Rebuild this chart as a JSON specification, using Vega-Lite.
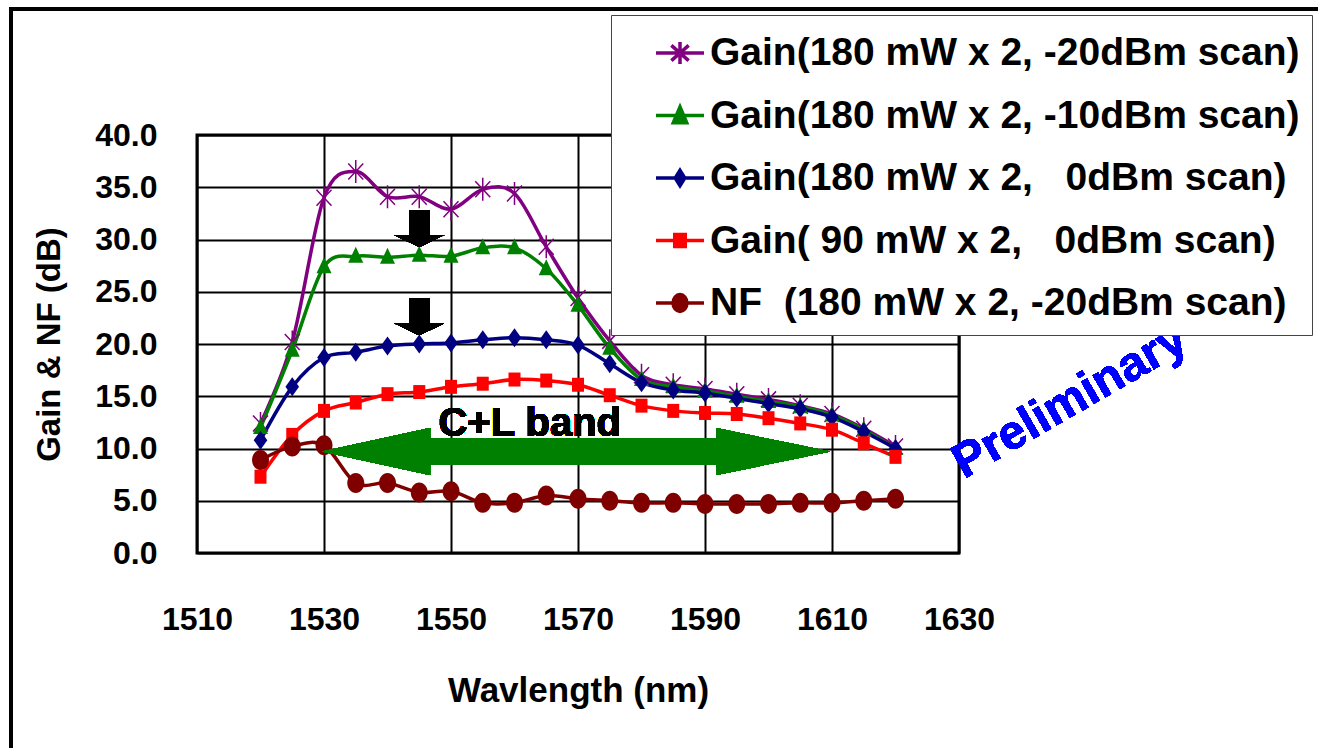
{
  "$schema": "https://vega.github.io/schema/vega-lite/v6.json",
  "width": 762,
  "height": 418,
  "autosize": {"type": "none"},
  "padding": {"left": 197, "top": 135, "right": 359, "bottom": 195},
  "background": "white",
  "config": {
    "font": "Liberation Sans",
    "view": {"stroke": "black", "strokeWidth": 3},
    "axis": {"gridColor": "black", "gridWidth": 2, "gridOpacity": 1, "domain": false, "ticks": false, "tickSize": 0,
             "labelFont": "Liberation Sans", "labelFontWeight": "bold", "labelColor": "black", "labelFontSize": 32,
             "labelOverlap": false, "labelFlush": false,
             "titleFontWeight": "bold", "titleColor": "black"}
  },
  "data": {"values": [
    {"wl": 1520, "Gain(180 mW x 2, -20dBm scan)": 12.4, "Gain(180 mW x 2, -10dBm scan)": 12.0, "Gain(180 mW x 2,\u00a0\u00a0\u00a00dBm scan)": 10.8, "Gain( 90 mW x 2,\u00a0\u00a0\u00a00dBm scan)": 7.3, "NF\u00a0\u00a0(180 mW x 2, -20dBm scan)": 8.9},
    {"wl": 1525, "Gain(180 mW x 2, -20dBm scan)": 20.2, "Gain(180 mW x 2, -10dBm scan)": 19.4, "Gain(180 mW x 2,\u00a0\u00a0\u00a00dBm scan)": 15.9, "Gain( 90 mW x 2,\u00a0\u00a0\u00a00dBm scan)": 11.3, "NF\u00a0\u00a0(180 mW x 2, -20dBm scan)": 10.2},
    {"wl": 1530, "Gain(180 mW x 2, -20dBm scan)": 34.0, "Gain(180 mW x 2, -10dBm scan)": 27.4, "Gain(180 mW x 2,\u00a0\u00a0\u00a00dBm scan)": 18.7, "Gain( 90 mW x 2,\u00a0\u00a0\u00a00dBm scan)": 13.6, "NF\u00a0\u00a0(180 mW x 2, -20dBm scan)": 10.3},
    {"wl": 1535, "Gain(180 mW x 2, -20dBm scan)": 36.5, "Gain(180 mW x 2, -10dBm scan)": 28.4, "Gain(180 mW x 2,\u00a0\u00a0\u00a00dBm scan)": 19.2, "Gain( 90 mW x 2,\u00a0\u00a0\u00a00dBm scan)": 14.4, "NF\u00a0\u00a0(180 mW x 2, -20dBm scan)": 6.7},
    {"wl": 1540, "Gain(180 mW x 2, -20dBm scan)": 34.1, "Gain(180 mW x 2, -10dBm scan)": 28.3, "Gain(180 mW x 2,\u00a0\u00a0\u00a00dBm scan)": 19.8, "Gain( 90 mW x 2,\u00a0\u00a0\u00a00dBm scan)": 15.2, "NF\u00a0\u00a0(180 mW x 2, -20dBm scan)": 6.7},
    {"wl": 1545, "Gain(180 mW x 2, -20dBm scan)": 34.1, "Gain(180 mW x 2, -10dBm scan)": 28.5, "Gain(180 mW x 2,\u00a0\u00a0\u00a00dBm scan)": 20.0, "Gain( 90 mW x 2,\u00a0\u00a0\u00a00dBm scan)": 15.4, "NF\u00a0\u00a0(180 mW x 2, -20dBm scan)": 5.8},
    {"wl": 1550, "Gain(180 mW x 2, -20dBm scan)": 32.9, "Gain(180 mW x 2, -10dBm scan)": 28.4, "Gain(180 mW x 2,\u00a0\u00a0\u00a00dBm scan)": 20.1, "Gain( 90 mW x 2,\u00a0\u00a0\u00a00dBm scan)": 15.9, "NF\u00a0\u00a0(180 mW x 2, -20dBm scan)": 5.9},
    {"wl": 1555, "Gain(180 mW x 2, -20dBm scan)": 34.8, "Gain(180 mW x 2, -10dBm scan)": 29.2, "Gain(180 mW x 2,\u00a0\u00a0\u00a00dBm scan)": 20.4, "Gain( 90 mW x 2,\u00a0\u00a0\u00a00dBm scan)": 16.2, "NF\u00a0\u00a0(180 mW x 2, -20dBm scan)": 4.8},
    {"wl": 1560, "Gain(180 mW x 2, -20dBm scan)": 34.4, "Gain(180 mW x 2, -10dBm scan)": 29.2, "Gain(180 mW x 2,\u00a0\u00a0\u00a00dBm scan)": 20.6, "Gain( 90 mW x 2,\u00a0\u00a0\u00a00dBm scan)": 16.6, "NF\u00a0\u00a0(180 mW x 2, -20dBm scan)": 4.8},
    {"wl": 1565, "Gain(180 mW x 2, -20dBm scan)": 29.3, "Gain(180 mW x 2, -10dBm scan)": 27.2, "Gain(180 mW x 2,\u00a0\u00a0\u00a00dBm scan)": 20.4, "Gain( 90 mW x 2,\u00a0\u00a0\u00a00dBm scan)": 16.5, "NF\u00a0\u00a0(180 mW x 2, -20dBm scan)": 5.5},
    {"wl": 1570, "Gain(180 mW x 2, -20dBm scan)": 24.4, "Gain(180 mW x 2, -10dBm scan)": 23.7, "Gain(180 mW x 2,\u00a0\u00a0\u00a00dBm scan)": 19.9, "Gain( 90 mW x 2,\u00a0\u00a0\u00a00dBm scan)": 16.1, "NF\u00a0\u00a0(180 mW x 2, -20dBm scan)": 5.2},
    {"wl": 1575, "Gain(180 mW x 2, -20dBm scan)": 20.3, "Gain(180 mW x 2, -10dBm scan)": 19.6, "Gain(180 mW x 2,\u00a0\u00a0\u00a00dBm scan)": 18.1, "Gain( 90 mW x 2,\u00a0\u00a0\u00a00dBm scan)": 15.1, "NF\u00a0\u00a0(180 mW x 2, -20dBm scan)": 5.0},
    {"wl": 1580, "Gain(180 mW x 2, -20dBm scan)": 17.0, "Gain(180 mW x 2, -10dBm scan)": 16.6, "Gain(180 mW x 2,\u00a0\u00a0\u00a00dBm scan)": 16.3, "Gain( 90 mW x 2,\u00a0\u00a0\u00a00dBm scan)": 14.1, "NF\u00a0\u00a0(180 mW x 2, -20dBm scan)": 4.8},
    {"wl": 1585, "Gain(180 mW x 2, -20dBm scan)": 16.1, "Gain(180 mW x 2, -10dBm scan)": 15.9, "Gain(180 mW x 2,\u00a0\u00a0\u00a00dBm scan)": 15.6, "Gain( 90 mW x 2,\u00a0\u00a0\u00a00dBm scan)": 13.6, "NF\u00a0\u00a0(180 mW x 2, -20dBm scan)": 4.8},
    {"wl": 1590, "Gain(180 mW x 2, -20dBm scan)": 15.7, "Gain(180 mW x 2, -10dBm scan)": 15.5, "Gain(180 mW x 2,\u00a0\u00a0\u00a00dBm scan)": 15.3, "Gain( 90 mW x 2,\u00a0\u00a0\u00a00dBm scan)": 13.4, "NF\u00a0\u00a0(180 mW x 2, -20dBm scan)": 4.7},
    {"wl": 1595, "Gain(180 mW x 2, -20dBm scan)": 15.2, "Gain(180 mW x 2, -10dBm scan)": 15.0, "Gain(180 mW x 2,\u00a0\u00a0\u00a00dBm scan)": 14.8, "Gain( 90 mW x 2,\u00a0\u00a0\u00a00dBm scan)": 13.3, "NF\u00a0\u00a0(180 mW x 2, -20dBm scan)": 4.7},
    {"wl": 1600, "Gain(180 mW x 2, -20dBm scan)": 14.7, "Gain(180 mW x 2, -10dBm scan)": 14.5, "Gain(180 mW x 2,\u00a0\u00a0\u00a00dBm scan)": 14.3, "Gain( 90 mW x 2,\u00a0\u00a0\u00a00dBm scan)": 12.9, "NF\u00a0\u00a0(180 mW x 2, -20dBm scan)": 4.7},
    {"wl": 1605, "Gain(180 mW x 2, -20dBm scan)": 14.1, "Gain(180 mW x 2, -10dBm scan)": 14.0, "Gain(180 mW x 2,\u00a0\u00a0\u00a00dBm scan)": 13.8, "Gain( 90 mW x 2,\u00a0\u00a0\u00a00dBm scan)": 12.4, "NF\u00a0\u00a0(180 mW x 2, -20dBm scan)": 4.8},
    {"wl": 1610, "Gain(180 mW x 2, -20dBm scan)": 13.3, "Gain(180 mW x 2, -10dBm scan)": 13.2, "Gain(180 mW x 2,\u00a0\u00a0\u00a00dBm scan)": 13.0, "Gain( 90 mW x 2,\u00a0\u00a0\u00a00dBm scan)": 11.8, "NF\u00a0\u00a0(180 mW x 2, -20dBm scan)": 4.8},
    {"wl": 1615, "Gain(180 mW x 2, -20dBm scan)": 11.9, "Gain(180 mW x 2, -10dBm scan)": 11.8, "Gain(180 mW x 2,\u00a0\u00a0\u00a00dBm scan)": 11.6, "Gain( 90 mW x 2,\u00a0\u00a0\u00a00dBm scan)": 10.5, "NF\u00a0\u00a0(180 mW x 2, -20dBm scan)": 5.0},
    {"wl": 1620, "Gain(180 mW x 2, -20dBm scan)": 10.2, "Gain(180 mW x 2, -10dBm scan)": 10.0, "Gain(180 mW x 2,\u00a0\u00a0\u00a00dBm scan)": 10.0, "Gain( 90 mW x 2,\u00a0\u00a0\u00a00dBm scan)": 9.2, "NF\u00a0\u00a0(180 mW x 2, -20dBm scan)": 5.2}
  ]},
  "transform": [
    {"fold": ["Gain(180 mW x 2, -20dBm scan)", "Gain(180 mW x 2, -10dBm scan)", "Gain(180 mW x 2,\u00a0\u00a0\u00a00dBm scan)", "Gain( 90 mW x 2,\u00a0\u00a0\u00a00dBm scan)", "NF\u00a0\u00a0(180 mW x 2, -20dBm scan)"], "as": ["series", "value"]}
  ],
  "encoding": {
    "x": {"field": "wl", "type": "quantitative", "scale": {"domain": [1510, 1630], "nice": false, "zero": false},
          "axis": {"values": [1510, 1530, 1550, 1570, 1590, 1610, 1630], "format": "d", "labelPadding": 51, "title": "Wavlength (nm)", "titleFont": "Liberation Sans", "titleFontSize": 35, "titlePadding": 38}},
    "y": {"field": "value", "type": "quantitative", "scale": {"domain": [0, 40], "nice": false},
          "axis": {"values": [0, 5, 10, 15, 20, 25, 30, 35, 40], "format": ".1f", "labelPadding": 40, "title": "Gain & NF (dB)", "titleFont": "Liberation Sans", "titleFontSize": 33, "titlePadding": 28}}
  },
  "layer": [
    {
      "mark": {"type": "rect", "filled": false, "stroke": "black", "strokeWidth": 3, "clip": false},
      "encoding": {"x": {"datum": 1480.7}, "x2": {"datum": 1720}, "y": {"datum": 52.06}, "y2": {"datum": -30}}
    },
    {
      "mark": {"type": "line", "interpolate": "cardinal", "strokeWidth": 3.5},
      "encoding": {
        "color": {"field": "series", "type": "nominal",
          "scale": {"domain": ["Gain(180 mW x 2, -20dBm scan)", "Gain(180 mW x 2, -10dBm scan)", "Gain(180 mW x 2,\u00a0\u00a0\u00a00dBm scan)", "Gain( 90 mW x 2,\u00a0\u00a0\u00a00dBm scan)", "NF\u00a0\u00a0(180 mW x 2, -20dBm scan)"],
                    "range": ["#800080", "#008000", "#000080", "#FF0000", "#800000"]},
          "legend": {
            "title": null, "orient": "none", "legendX": 414, "legendY": -120,
            "padding": 12, "rowPadding": 16.5, "symbolSize": 2304, "symbolOffset": 31, "labelOffset": 4,
            "fillColor": "white", "strokeColor": "#444444",
            "labelFont": "Liberation Sans", "labelFontSize": 39, "labelFontWeight": "bold", "labelColor": "black", "labelLimit": 1000,
            "symbolStrokeWidth": 3.5,
            "encode": {"symbols": {"update": {
              "shape": {"signal": "indexof(datum.value,'NF')===0 ? 'M-1,0L1,0M-0.29,0A0.29,0.35 0 1,0 0.29,0A0.29,0.35 0 1,0 -0.29,0Z' : indexof(datum.value,'-20dBm')>=0 ? 'M-1,0L1,0M0,-0.46L0,0.46M-0.36,-0.32L0.36,0.32M-0.36,0.32L0.36,-0.32' : indexof(datum.value,'-10dBm')>=0 ? 'M-1,0L1,0M0,-0.36L0.28,0.3L-0.28,0.3Z' : indexof(datum.value,'90 mW')>=0 ? 'M-1,0L1,0M-0.22,-0.25L0.22,-0.25L0.22,0.25L-0.22,0.25Z' : 'M-1,0L1,0M0,-0.32L0.2,0L0,0.32L-0.2,0Z'"},
              "fill": {"scale": "color", "field": "value"},
              "stroke": {"scale": "color", "field": "value"},
              "fillOpacity": {"value": 1},
              "strokeWidth": {"value": 3.5},
              "opacity": {"value": 1}
            }}}
          }
        }
      }
    },
    {
      "transform": [{"filter": {"field": "series", "equal": "Gain(180 mW x 2, -20dBm scan)"}}],
      "mark": {"type": "point", "filled": false, "color": "#800080", "size": 400, "opacity": 1, "strokeWidth": 1.5,
               "shape": "M0,-1.15L0,1.15M-0.75,-0.8L0.75,0.8M-0.75,0.8L0.75,-0.8"}
    },
    {
      "transform": [{"filter": {"field": "series", "equal": "Gain(180 mW x 2, -10dBm scan)"}}],
      "mark": {"type": "point", "filled": true, "color": "#008000", "size": 400, "opacity": 1,
               "shape": "M0,-0.95L0.75,0.65L-0.75,0.65Z"}
    },
    {
      "transform": [{"filter": {"field": "series", "equal": "Gain(180 mW x 2,\u00a0\u00a0\u00a00dBm scan)"}}],
      "mark": {"type": "point", "filled": true, "color": "#000080", "size": 400, "opacity": 1,
               "shape": "M0,-0.95L0.68,0L0,0.95L-0.68,0Z"}
    },
    {
      "transform": [{"filter": {"field": "series", "equal": "Gain( 90 mW x 2,\u00a0\u00a0\u00a00dBm scan)"}}],
      "mark": {"type": "point", "filled": true, "color": "#FF0000", "size": 400, "opacity": 1,
               "shape": "M-0.6,-0.7L0.6,-0.7L0.6,0.7L-0.6,0.7Z"}
    },
    {
      "transform": [{"filter": {"field": "series", "equal": "NF\u00a0\u00a0(180 mW x 2, -20dBm scan)"}}],
      "mark": {"type": "point", "filled": true, "color": "#800000", "size": 400, "opacity": 1,
               "shape": "M-0.85,0A0.85,1 0 1,0 0.85,0A0.85,1 0 1,0 -0.85,0Z"}
    },
    {
      "mark": {"type": "point", "filled": true, "color": "black", "opacity": 1, "strokeWidth": 0, "size": 2500,
               "shape": "M-0.4,-0.74L0.4,-0.74L0.4,0.26L1,0.26L0,0.74L-1,0.26L-0.4,0.26Z"},
      "encoding": {"x": {"datum": 1545}, "y": {"datum": 31.05}}
    },
    {
      "mark": {"type": "point", "filled": true, "color": "black", "opacity": 1, "strokeWidth": 0, "size": 2500,
               "shape": "M-0.4,-0.74L0.4,-0.74L0.4,0.26L1,0.26L0,0.74L-1,0.26L-0.4,0.26Z"},
      "encoding": {"x": {"datum": 1545}, "y": {"datum": 22.6}}
    },
    {
      "mark": {"type": "point", "filled": true, "color": "#008000", "opacity": 1, "strokeWidth": 0, "size": 258064,
               "shape": "M-1,0L-0.575,-0.0925L-0.575,-0.053L0.551,-0.053L0.551,-0.0925L1,0L0.551,0.0925L0.551,0.053L-0.575,0.053L-0.575,0.0925Z"},
      "encoding": {"x": {"datum": 1569.7}, "y": {"datum": 9.71}}
    },
    {
      "mark": {"type": "text", "text": "C+L band", "font": "Liberation Sans", "fontSize": 40, "fontWeight": "bold", "color": "black", "align": "center", "baseline": "alphabetic"},
      "encoding": {"x": {"datum": 1562.4}, "y": {"datum": 11.2}}
    },
    {
      "mark": {"type": "text", "text": "Preliminary", "font": "Liberation Sans", "fontSize": 48, "fontWeight": "bold", "color": "#0000FF", "align": "center", "baseline": "middle", "angle": -30, "clip": false},
      "encoding": {"x": {"datum": 1647.5}, "y": {"datum": 14.5}}
    }
  ]
}
